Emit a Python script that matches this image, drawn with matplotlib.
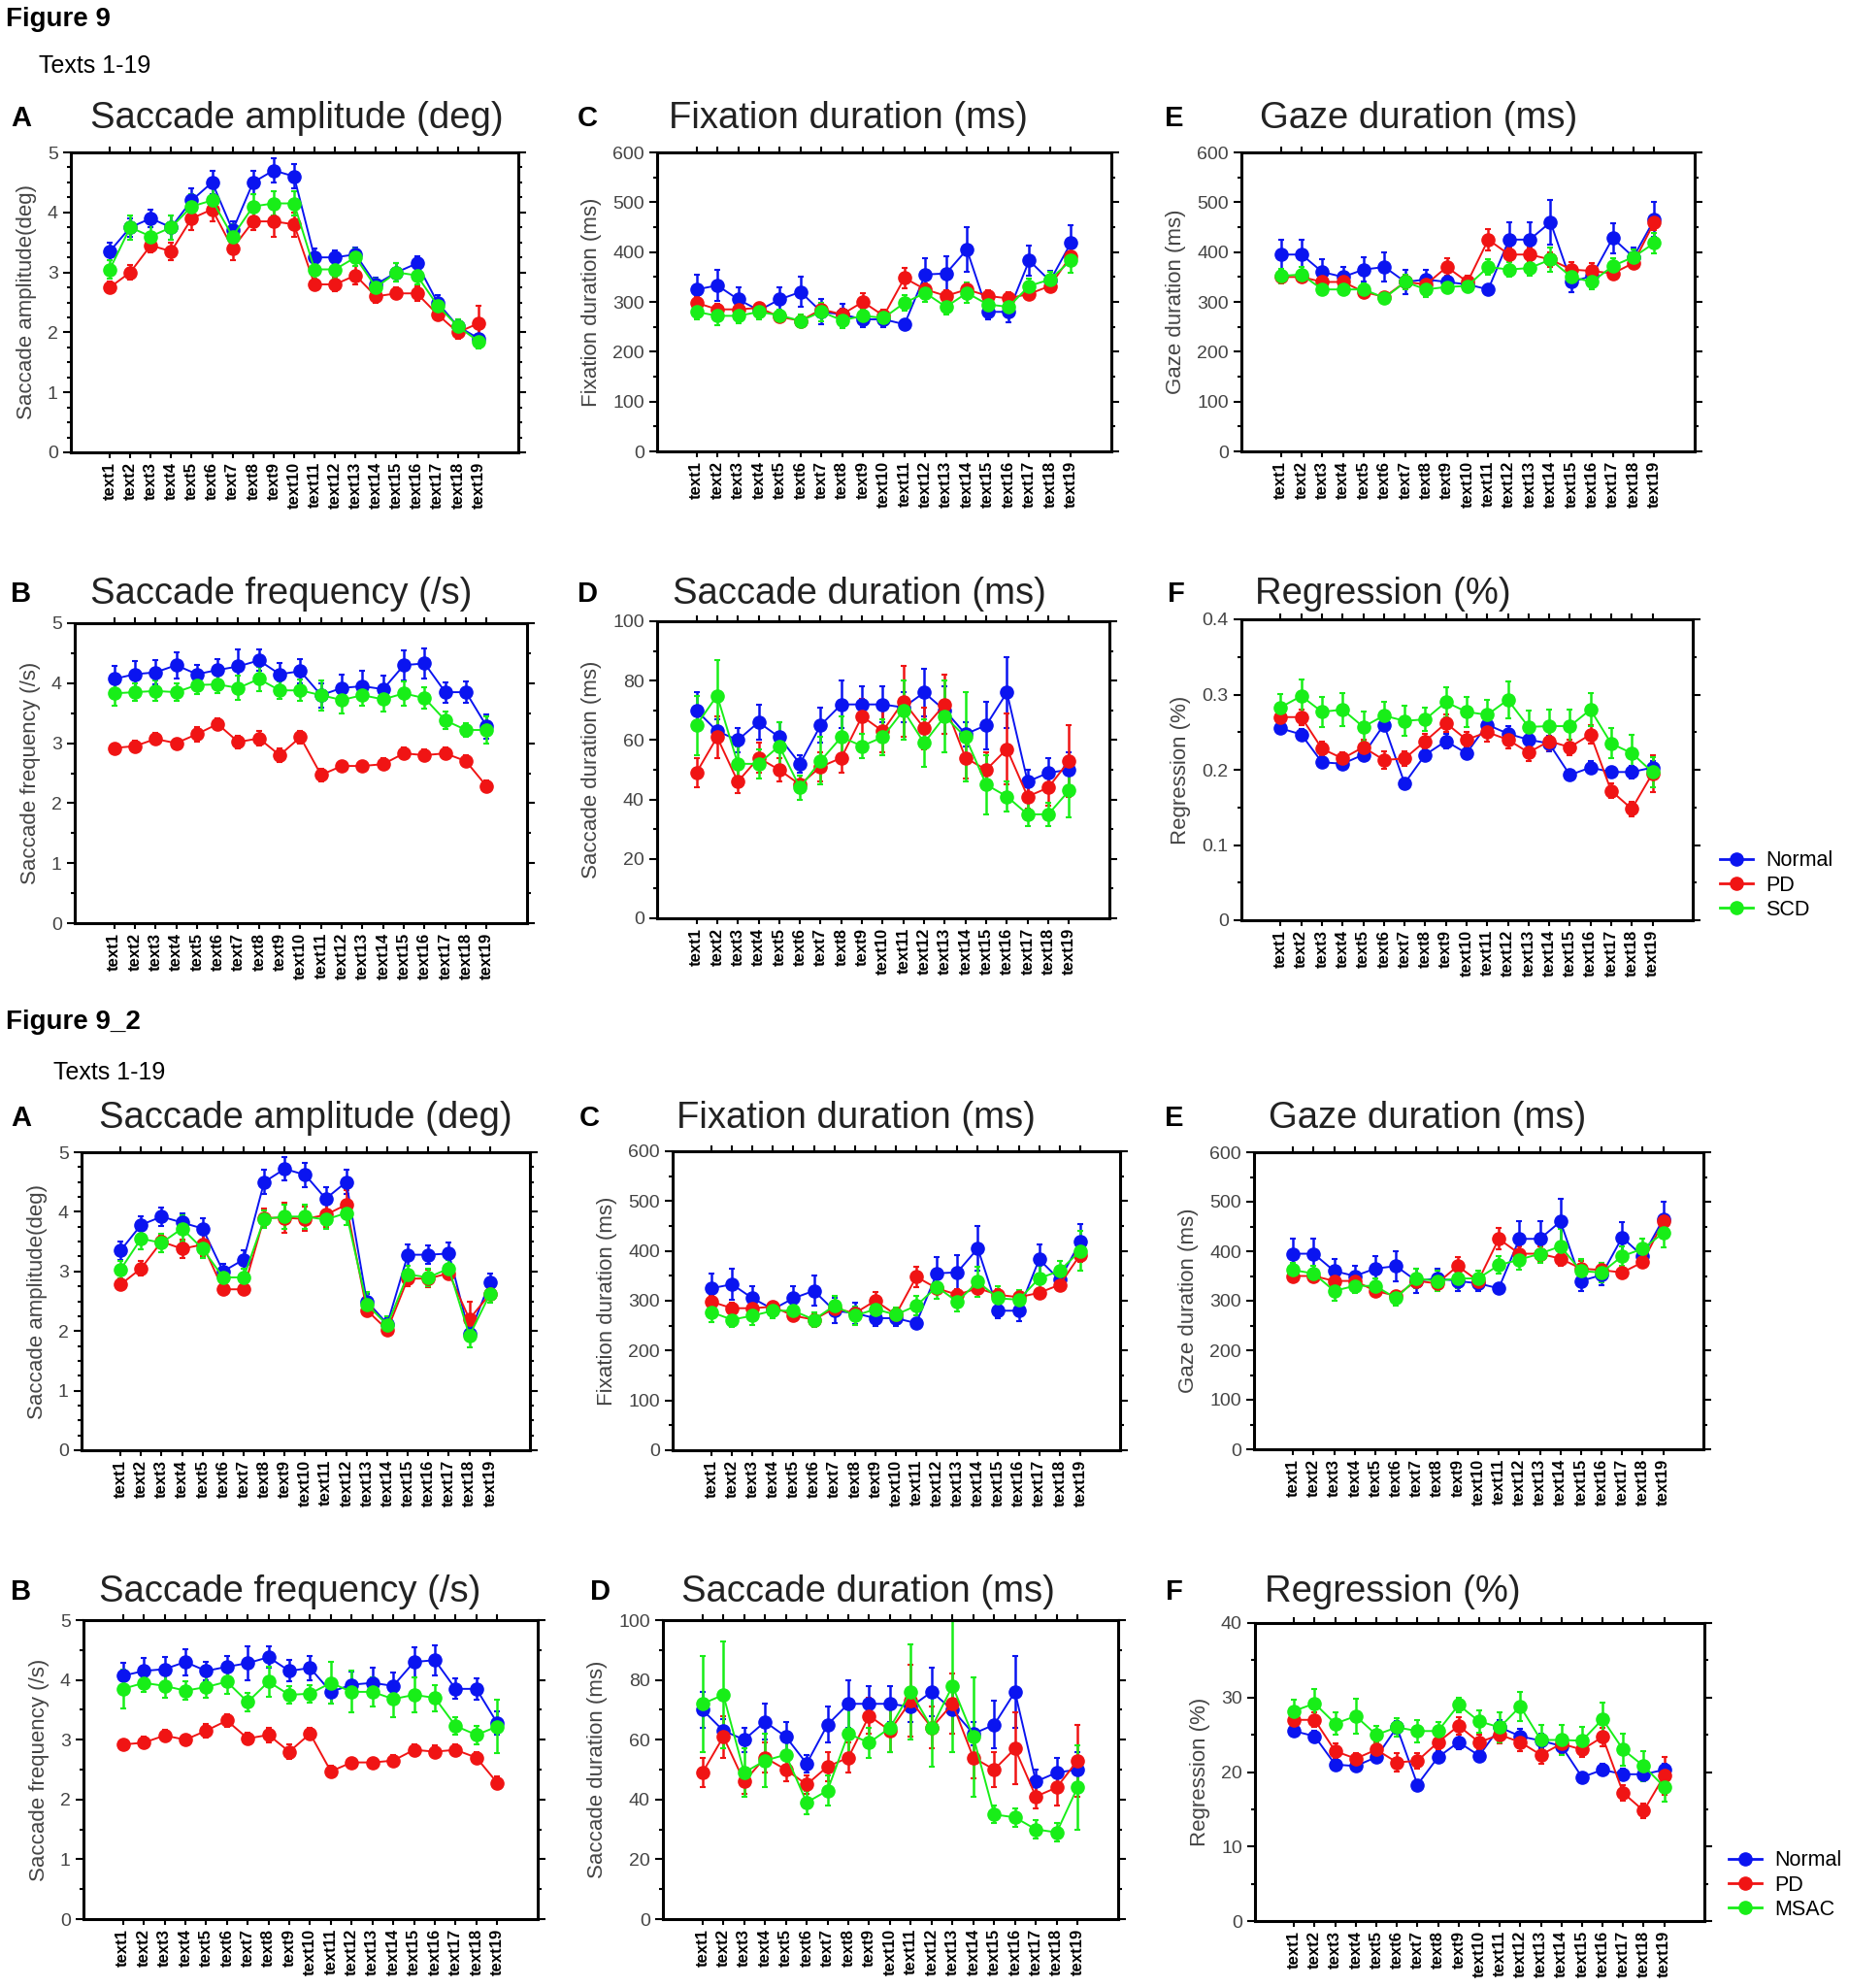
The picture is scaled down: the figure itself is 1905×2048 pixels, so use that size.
import numpy as np
import matplotlib
matplotlib.use("Agg")
import matplotlib.pyplot as plt
from matplotlib.lines import Line2D
from matplotlib.ticker import MultipleLocator

plt.rcParams['font.family'] = ['Liberation Sans', 'DejaVu Sans']

texts = ["text%d" % i for i in range(1, 20)]

# ---- Figure 9 (Normal / PD / SCD) ----
amp_normal = [3.35, 3.75, 3.9, 3.75, 4.2, 4.5, 3.7, 4.5, 4.7, 4.6, 3.25, 3.25, 3.3, 2.8, 3.0, 3.15, 2.5, 2.1, 1.9]
amp_normal_err = [0.15, 0.15, 0.15, 0.2, 0.2, 0.2, 0.15, 0.2, 0.2, 0.2, 0.15, 0.12, 0.12, 0.12, 0.15, 0.12, 0.12, 0.12, 0.15]
amp_pd = [2.75, 3.0, 3.45, 3.35, 3.9, 4.05, 3.4, 3.85, 3.85, 3.8, 2.8, 2.8, 2.95, 2.6, 2.65, 2.65, 2.3, 2.0, 2.15]
amp_pd_err = [0.1, 0.12, 0.12, 0.15, 0.2, 0.2, 0.2, 0.15, 0.25, 0.2, 0.1, 0.12, 0.15, 0.1, 0.1, 0.12, 0.1, 0.1, 0.3]
amp_scd = [3.05, 3.75, 3.6, 3.75, 4.1, 4.2, 3.6, 4.1, 4.15, 4.15, 3.05, 3.05, 3.25, 2.75, 3.0, 2.95, 2.45, 2.1, 1.85]
amp_scd_err = [0.15, 0.2, 0.2, 0.2, 0.2, 0.2, 0.2, 0.2, 0.2, 0.2, 0.15, 0.15, 0.15, 0.15, 0.15, 0.15, 0.12, 0.12, 0.12]

fix_normal = [325, 333, 305, 283, 305, 320, 280, 275, 265, 265, 255, 355, 357, 405, 280, 280, 383, 342, 418]
fix_normal_err = [30, 32, 25, 15, 25, 30, 25, 22, 15, 15, 10, 32, 35, 45, 15, 20, 30, 20, 35]
fix_pd = [298, 285, 285, 288, 270, 262, 285, 275, 300, 272, 348, 325, 312, 325, 312, 307, 316, 332, 392]
fix_pd_err = [12, 12, 12, 10, 10, 10, 12, 12, 18, 12, 20, 12, 12, 12, 12, 12, 10, 10, 15]
fix_scd = [280, 272, 272, 280, 273, 262, 280, 263, 272, 268, 298, 318, 290, 318, 295, 290, 332, 345, 383]
fix_scd_err = [15, 18, 15, 15, 12, 12, 18, 15, 15, 15, 15, 18, 15, 20, 15, 15, 15, 15, 25]

gaze_normal = [395, 395, 360, 350, 365, 370, 340, 345, 340, 335, 325, 425, 425, 460, 340, 352, 428, 390, 465]
gaze_normal_err = [30, 30, 25, 20, 25, 30, 25, 20, 20, 15, 10, 35, 35, 45, 20, 20, 30, 20, 35]
gaze_pd = [350, 350, 340, 340, 320, 310, 340, 335, 370, 340, 425, 395, 395, 385, 365, 362, 357, 378, 460]
gaze_pd_err = [10, 10, 10, 10, 10, 10, 12, 12, 18, 12, 22, 15, 15, 15, 15, 15, 12, 12, 15]
gaze_scd = [352, 355, 325, 325, 325, 308, 340, 325, 330, 332, 370, 365, 368, 385, 350, 340, 372, 390, 418]
gaze_scd_err = [15, 15, 12, 12, 12, 10, 15, 15, 12, 12, 15, 15, 15, 25, 15, 15, 15, 15, 20]

freq_normal = [4.07, 4.15, 4.18, 4.3, 4.15, 4.22, 4.28, 4.38, 4.15, 4.2, 3.8, 3.92, 3.95, 3.9, 4.3, 4.33, 3.85, 3.85, 3.28]
freq_normal_err = [0.22, 0.22, 0.2, 0.22, 0.15, 0.18, 0.28, 0.18, 0.18, 0.2, 0.2, 0.22, 0.25, 0.22, 0.25, 0.25, 0.17, 0.18, 0.2]
freq_pd = [2.92, 2.95, 3.07, 3.0, 3.15, 3.32, 3.02, 3.08, 2.8, 3.1, 2.47, 2.62, 2.62, 2.65, 2.83, 2.8, 2.83, 2.7, 2.28]
freq_pd_err = [0.07, 0.1, 0.1, 0.08, 0.12, 0.1, 0.1, 0.12, 0.12, 0.1, 0.1, 0.08, 0.08, 0.1, 0.1, 0.1, 0.1, 0.1, 0.1]
freq_scd = [3.83, 3.85, 3.87, 3.85, 3.97, 3.98, 3.92, 4.07, 3.88, 3.88, 3.8, 3.72, 3.8, 3.73, 3.83, 3.75, 3.38, 3.22, 3.22]
freq_scd_err = [0.2, 0.15, 0.17, 0.15, 0.15, 0.15, 0.2, 0.2, 0.15, 0.18, 0.25, 0.22, 0.18, 0.2, 0.2, 0.18, 0.15, 0.12, 0.22]

sdur_normal = [70, 63, 60, 66, 61, 52, 65, 72, 72, 72, 71, 76, 70, 62, 65, 76, 46, 49, 50]
sdur_normal_err = [6, 4, 4, 6, 5, 3, 6, 8, 6, 6, 5, 8, 8, 4, 8, 12, 4, 5, 6]
sdur_pd = [49, 61, 46, 54, 50, 45, 51, 54, 68, 63, 73, 64, 72, 54, 50, 57, 41, 44, 53]
sdur_pd_err = [5, 7, 4, 5, 4, 3, 5, 5, 6, 7, 12, 7, 10, 7, 6, 12, 4, 6, 12]
sdur_scd = [65, 75, 52, 52, 58, 44, 53, 61, 58, 61, 70, 59, 68, 61, 45, 41, 35, 35, 43]
sdur_scd_err = [10, 12, 6, 5, 8, 4, 8, 7, 4, 6, 10, 8, 12, 15, 10, 5, 4, 4, 9]

reg_normal = [0.255, 0.247, 0.21, 0.208, 0.22, 0.26, 0.182, 0.22, 0.238, 0.222, 0.26, 0.248, 0.24, 0.235, 0.193, 0.203, 0.197, 0.197, 0.203]
reg_normal_err = [0.005, 0.007, 0.007, 0.007, 0.007, 0.007, 0.007, 0.007, 0.01, 0.007, 0.01, 0.01, 0.01, 0.01, 0.007, 0.008, 0.007, 0.008, 0.008]
reg_pd = [0.27, 0.27, 0.228, 0.215, 0.23, 0.213, 0.215, 0.238, 0.262, 0.24, 0.25, 0.24, 0.223, 0.238, 0.23, 0.247, 0.172, 0.148, 0.195]
reg_pd_err = [0.008, 0.01, 0.01, 0.008, 0.01, 0.012, 0.01, 0.01, 0.012, 0.01, 0.012, 0.012, 0.012, 0.012, 0.01, 0.012, 0.01, 0.01, 0.025]
reg_scd = [0.283, 0.298, 0.277, 0.28, 0.257, 0.272, 0.265, 0.267, 0.29, 0.277, 0.273, 0.293, 0.257, 0.258, 0.258, 0.28, 0.235, 0.222, 0.197]
reg_scd_err = [0.018, 0.022, 0.02, 0.022, 0.02, 0.018, 0.02, 0.015, 0.02, 0.02, 0.02, 0.025, 0.022, 0.022, 0.022, 0.022, 0.02, 0.025, 0.02]

# ---- Figure 9_2 (Normal / PD / MSAC) ----
amp2_normal = [3.35, 3.78, 3.92, 3.82, 3.72, 3.0, 3.2, 4.5, 4.72, 4.62, 4.22, 4.5, 2.5, 2.12, 3.28, 3.28, 3.3, 1.95, 2.82]
amp2_normal_err = [0.15, 0.15, 0.15, 0.15, 0.18, 0.12, 0.15, 0.2, 0.2, 0.2, 0.2, 0.2, 0.12, 0.1, 0.18, 0.15, 0.18, 0.12, 0.15]
amp2_pd = [2.78, 3.05, 3.5, 3.38, 3.45, 2.7, 2.7, 3.9, 3.9, 3.88, 3.95, 4.12, 2.35, 2.02, 2.88, 2.88, 2.97, 2.2, 2.62]
amp2_pd_err = [0.1, 0.12, 0.12, 0.15, 0.2, 0.1, 0.1, 0.15, 0.25, 0.2, 0.2, 0.25, 0.1, 0.05, 0.12, 0.15, 0.1, 0.3, 0.1]
amp2_msac = [3.03, 3.55, 3.48, 3.72, 3.38, 2.9, 2.9, 3.88, 3.92, 3.92, 3.87, 3.98, 2.45, 2.1, 2.95, 2.9, 3.05, 1.92, 2.62]
amp2_msac_err = [0.15, 0.18, 0.15, 0.22, 0.15, 0.15, 0.15, 0.15, 0.2, 0.2, 0.15, 0.2, 0.2, 0.15, 0.15, 0.15, 0.15, 0.2, 0.15]

fix2_msac = [277, 262, 270, 280, 280, 262, 290, 270, 283, 272, 290, 328, 298, 338, 305, 302, 345, 360, 400]
fix2_msac_err = [20, 15, 18, 15, 18, 15, 20, 18, 20, 15, 20, 25, 20, 30, 25, 20, 25, 20, 40]

gaze2_msac = [362, 355, 320, 330, 330, 305, 345, 340, 345, 345, 372, 383, 395, 410, 360, 357, 390, 405, 437]
gaze2_msac_err = [15, 15, 20, 15, 15, 15, 20, 20, 20, 15, 18, 20, 18, 35, 25, 20, 20, 20, 30]

freq2_msac = [3.85, 3.95, 3.9, 3.82, 3.88, 3.97, 3.63, 3.97, 3.75, 3.77, 3.95, 3.8, 3.8, 3.68, 3.75, 3.7, 3.23, 3.08, 3.22]
freq2_msac_err = [0.32, 0.15, 0.2, 0.15, 0.18, 0.2, 0.15, 0.25, 0.15, 0.15, 0.35, 0.35, 0.25, 0.3, 0.3, 0.22, 0.15, 0.15, 0.45]

sdur2_msac = [72, 75, 49, 53, 55, 39, 43, 62, 59, 64, 76, 64, 78, 61, 35, 34, 30, 29, 44]
sdur2_msac_err = [16, 18, 8, 9, 6, 4, 5, 10, 5, 8, 16, 13, 22, 20, 3, 3, 3, 3, 14]

reg2_normal = [25.5, 24.8, 21.0, 20.8, 22.0, 26.0, 18.3, 22.0, 24.0, 22.2, 26.0, 24.8, 24.2, 23.5, 19.3, 20.3, 19.7, 19.7, 20.3]
reg2_normal_err = [0.6, 0.8, 0.8, 0.7, 0.8, 0.8, 0.6, 0.8, 1.0, 0.8, 1.0, 1.0, 1.0, 1.0, 0.7, 0.8, 0.7, 0.8, 0.8]
reg2_pd = [27.0, 27.0, 22.8, 21.8, 23.0, 21.3, 21.5, 24.0, 26.2, 24.0, 25.0, 24.0, 22.3, 23.8, 23.0, 24.7, 17.2, 14.8, 19.5]
reg2_pd_err = [0.8, 1.0, 1.0, 0.8, 1.0, 1.2, 1.0, 1.0, 1.2, 1.0, 1.2, 1.2, 1.2, 1.2, 1.0, 1.2, 1.0, 1.0, 2.5]
reg2_msac = [28.2, 29.2, 26.5, 27.5, 25.0, 26.0, 25.5, 25.5, 29.0, 26.8, 26.0, 28.8, 24.3, 24.3, 24.2, 27.1, 23.0, 20.8, 18.0]
reg2_msac_err = [1.5, 2.0, 1.5, 2.3, 1.2, 1.2, 1.5, 1.2, 1.0, 1.5, 2.0, 2.0, 2.0, 2.0, 1.8, 2.2, 2.2, 2.0, 2.0]

BLUE, RED, GREEN = "#0a14f0", "#f01414", "#18ee18"

W, H = 1905, 2048
fig = plt.figure(figsize=(W / 100, H / 100), dpi=100)


def add_panel(box, series, ylim, major, minor, ylabel):
    l, t, r, b = box
    ax = fig.add_axes([l / W, 1 - b / H, (r - l) / W, (b - t) / H])
    x = np.arange(19)
    for vals, errs, col in series:
        ax.errorbar(x, vals, yerr=errs, color=col, marker="o", ms=9.5, lw=1.4,
                    elinewidth=1.8, capsize=2.5, capthick=1.5, mec=col)
    ax.set_xlim(-1.9, 19.95)
    ax.set_ylim(*ylim)
    ax.set_xticks(x)
    ax.set_xticklabels(texts, rotation=90, fontsize=12, fontweight="bold")
    ax.yaxis.set_major_locator(MultipleLocator(major))
    ax.yaxis.set_minor_locator(MultipleLocator(minor))
    ax.tick_params(axis="both", which="both", direction="out", top=True, right=True, width=1.5)
    ax.tick_params(axis="x", length=4, pad=3)
    ax.tick_params(axis="y", which="major", length=6, labelsize=14, labelcolor="#444444")
    ax.tick_params(axis="y", which="minor", length=3)
    ax.set_ylabel(ylabel, fontsize=16, color="#444444", labelpad=8)
    for s in ax.spines.values():
        s.set_linewidth(2.2)
    return ax


def label(x, y, letter, title, tx):
    fig.text(x / W, 1 - y / H, letter, fontsize=21, fontweight="bold", va="center")
    fig.text(tx / W, 1 - y / H, title, fontsize=27.5, va="center", color="#222222")


def fmt_reg(ax):
    ax.set_yticks([0, 0.1, 0.2, 0.3, 0.4])
    ax.set_yticklabels(["0", "0.1", "0.2", "0.3", "0.4"])


def add_legend(ax, names, x, y):
    handles = [Line2D([], [], color=c, marker="o", ms=9.5, lw=2) for c in (BLUE, RED, GREEN)]
    ax.legend(handles, names, loc="center left", bbox_to_anchor=(x / W, 1 - y / H),
              bbox_transform=fig.transFigure, frameon=False, fontsize=15.5,
              handlelength=1.6, handletextpad=0.6, labelspacing=0.2, borderpad=0, borderaxespad=0)


# headings
fig.text(6 / W, 1 - 20 / H, "Figure 9", fontsize=20, fontweight="bold", va="center")
fig.text(40 / W, 1 - 68 / H, "Texts 1-19", fontsize=18, va="center")
fig.text(6 / W, 1 - 1053 / H, "Figure 9_2", fontsize=20, fontweight="bold", va="center")
fig.text(55 / W, 1 - 1105 / H, "Texts 1-19", fontsize=18, va="center")

# ---- Figure 9 panels ----
label(11, 122, "A", "Saccade amplitude (deg)", 93)
add_panel((73, 157, 534, 466),
          [(amp_normal, amp_normal_err, BLUE), (amp_pd, amp_pd_err, RED), (amp_scd, amp_scd_err, GREEN)],
          (0, 5), 1, 0.25, "Saccade amplitude(deg)")

label(595, 122, "C", "Fixation duration (ms)", 689)
add_panel((677, 157, 1145, 465),
          [(fix_normal, fix_normal_err, BLUE), (fix_pd, fix_pd_err, RED), (fix_scd, fix_scd_err, GREEN)],
          (0, 600), 100, 50, "Fixation duration (ms)")

label(1200, 122, "E", "Gaze duration (ms)", 1298)
add_panel((1279, 157, 1746, 465),
          [(gaze_normal, gaze_normal_err, BLUE), (gaze_pd, gaze_pd_err, RED), (gaze_scd, gaze_scd_err, GREEN)],
          (0, 600), 100, 50, "Gaze duration (ms)")

label(11, 612, "B", "Saccade frequency (/s)", 93)
add_panel((77, 642, 543, 951),
          [(freq_normal, freq_normal_err, BLUE), (freq_pd, freq_pd_err, RED), (freq_scd, freq_scd_err, GREEN)],
          (0, 5), 1, 0.5, "Saccade frequency (/s)")

label(595, 612, "D", "Saccade duration (ms)", 693)
add_panel((677, 640, 1143, 946),
          [(sdur_normal, sdur_normal_err, BLUE), (sdur_pd, sdur_pd_err, RED), (sdur_scd, sdur_scd_err, GREEN)],
          (0, 100), 20, 10, "Saccade duration (ms)")

label(1203, 612, "F", "Regression (%)", 1293)
ax = add_panel((1279, 638, 1744, 948),
               [(reg_normal, reg_normal_err, BLUE), (reg_pd, reg_pd_err, RED), (reg_scd, reg_scd_err, GREEN)],
               (0, 0.4), 0.1, 0.05, "Regression (%)")
fmt_reg(ax)
add_legend(ax, ["Normal", "PD", "SCD"], 1772, 912)

# ---- Figure 9_2 panels ----
label(11, 1152, "A", "Saccade amplitude (deg)", 102)
add_panel((84, 1187, 546, 1494),
          [(amp2_normal, amp2_normal_err, BLUE), (amp2_pd, amp2_pd_err, RED), (amp2_msac, amp2_msac_err, GREEN)],
          (0, 5), 1, 0.25, "Saccade amplitude(deg)")

label(597, 1152, "C", "Fixation duration (ms)", 697)
add_panel((693, 1186, 1154, 1494),
          [(fix_normal, fix_normal_err, BLUE), (fix_pd, fix_pd_err, RED), (fix2_msac, fix2_msac_err, GREEN)],
          (0, 600), 100, 50, "Fixation duration (ms)")

label(1200, 1152, "E", "Gaze duration (ms)", 1307)
add_panel((1292, 1187, 1755, 1493),
          [(gaze_normal, gaze_normal_err, BLUE), (gaze_pd, gaze_pd_err, RED), (gaze2_msac, gaze2_msac_err, GREEN)],
          (0, 600), 100, 50, "Gaze duration (ms)")

label(11, 1640, "B", "Saccade frequency (/s)", 102)
add_panel((86, 1669, 554, 1977),
          [(freq_normal, freq_normal_err, BLUE), (freq_pd, freq_pd_err, RED), (freq2_msac, freq2_msac_err, GREEN)],
          (0, 5), 1, 0.5, "Saccade frequency (/s)")

label(608, 1640, "D", "Saccade duration (ms)", 702)
add_panel((683, 1669, 1152, 1977),
          [(sdur_normal, sdur_normal_err, BLUE), (sdur_pd, sdur_pd_err, RED), (sdur2_msac, sdur2_msac_err, GREEN)],
          (0, 100), 20, 10, "Saccade duration (ms)")

label(1201, 1640, "F", "Regression (%)", 1303)
ax = add_panel((1293, 1672, 1756, 1979),
               [(reg2_normal, reg2_normal_err, BLUE), (reg2_pd, reg2_pd_err, RED), (reg2_msac, reg2_msac_err, GREEN)],
               (0, 40), 10, 5, "Regression (%)")
add_legend(ax, ["Normal", "PD", "MSAC"], 1781, 1942)

fig.savefig("out.png", dpi=100)
